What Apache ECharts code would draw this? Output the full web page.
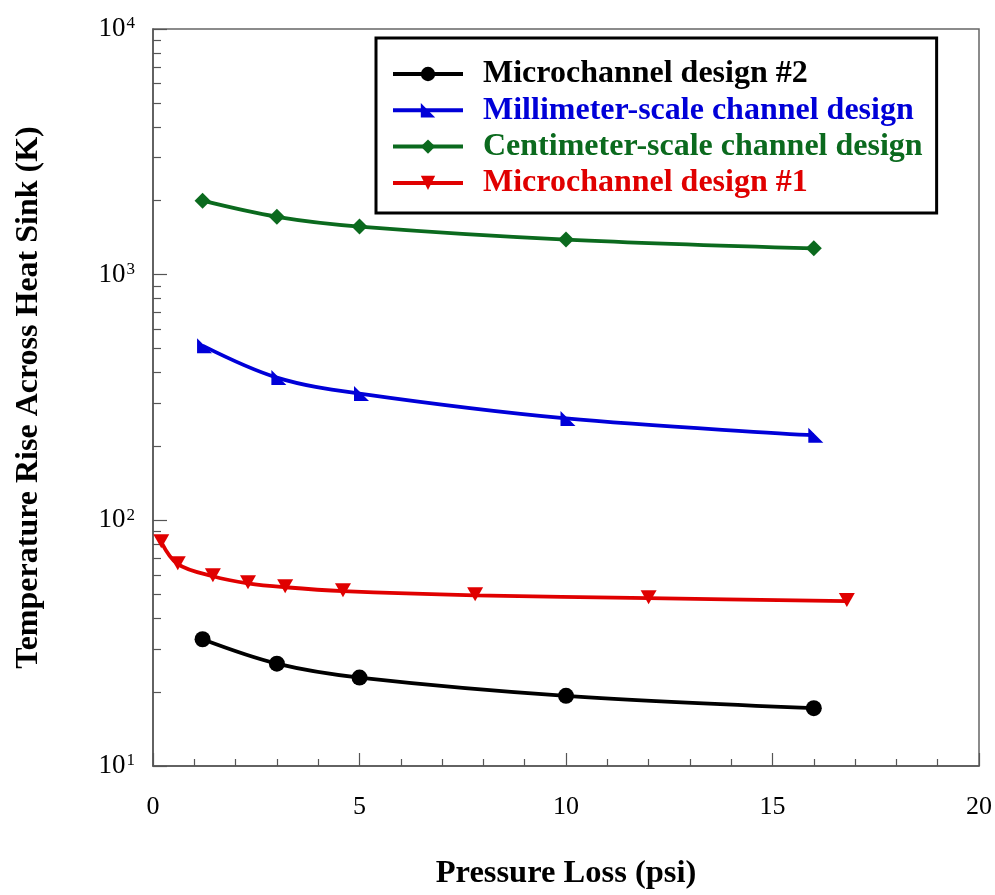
<!DOCTYPE html>
<html>
<head>
<meta charset="utf-8">
<script src="https://cdn.jsdelivr.net/npm/echarts@6/dist/echarts.min.js"></script>
<style>
  html, body { margin: 0; padding: 0; background: #fff; }
  #chart { width: 995px; height: 895px; }
</style>
</head>
<body>
<div id="chart"></div>
<script>
// Pressure loss (psi) and temperature rise (K) for each design
const microDesign2X = [1.2, 3, 5, 10, 16];
const microDesign2Y = [32.8, 26.1, 22.9, 19.3, 17.2];

const millimeterX = [1.2, 3, 5, 10, 16];
const millimeterY = [514, 381, 328, 260, 222];

const centimeterX = [1.2, 3, 5, 10, 16];
const centimeterY = [2000, 1720, 1570, 1390, 1280];

const microDesign1X = [0.2, 0.6, 1.45, 2.3, 3.2, 4.6, 7.8, 12.0, 16.8];
const microDesign1Y = [81.5, 66.3, 59.2, 55.4, 53.4, 51.5, 49.5, 48.2, 46.9];

const seriesNames = [
  'Microchannel design #2',
  'Millimeter-scale channel design',
  'Centimeter-scale channel design',
  'Microchannel design #1'
];
const seriesColors = ['#000000', '#0000d8', '#0b6a1e', '#e00000'];

// Minor ticks of the logarithmic temperature axis (2..9 within each decade)
const logMinorTicks = [];
[10, 100, 1000].forEach(d => { for (let k = 2; k <= 9; k++) logMinorTicks.push(k * d); });

const SERIF = '"Liberation Serif", "Times New Roman", serif';

const pairs = (xs, ys) => xs.map((x, i) => [x, ys[i]]);

const chart = echarts.init(document.getElementById('chart'), null, { renderer: 'canvas' });

const common = {
  type: 'line',
  smooth: 0.35,
  symbolSize: 14,
  lineStyle: { width: 3.5 },
  z: 3
};

chart.setOption({
  animation: false,
  backgroundColor: '#ffffff',
  grid: {
    left: 153, top: 29, right: 16, bottom: 128,
    show: true, borderColor: '#666', borderWidth: 1.5, backgroundColor: 'transparent'
  },
  legend: {
    orient: 'vertical',
    left: 376, top: 38,
    padding: [20, 14, 14, 15],
    borderColor: '#000', borderWidth: 3,
    backgroundColor: '#fff',
    itemWidth: 70, itemHeight: 18, itemGap: 4.3,
    lineStyle: { width: 4 },
    textStyle: {
      fontFamily: SERIF, fontWeight: 'bold', fontSize: 32, lineHeight: 32,
      padding: [0, 0, 0, 15]
    },
    data: seriesNames.map((n, i) => ({ name: n, textStyle: { color: seriesColors[i] } }))
  },
  xAxis: {
    type: 'value',
    min: 0, max: 20, interval: 5,
    name: 'Pressure Loss (psi)',
    nameLocation: 'middle', nameGap: 91,
    nameTextStyle: { fontFamily: SERIF, fontWeight: 'bold', fontSize: 32.5, color: '#000' },
    axisLine: { show: true, onZero: false, lineStyle: { color: '#555', width: 1.5 } },
    axisTick: { show: true, inside: true, length: 13, lineStyle: { color: '#555', width: 1.2 } },
    minorTick: { show: true, splitNumber: 5, length: 7, lineStyle: { color: '#555', width: 1.2 } },
    splitLine: { show: false },
    axisLabel: { fontFamily: SERIF, fontSize: 26, color: '#000', margin: 28 }
  },
  yAxis: [
    {
      type: 'log', logBase: 10, min: 10, max: 10000,
      name: 'Temperature Rise Across Heat Sink (K)',
      nameLocation: 'middle', nameGap: 108,
      nameTextStyle: { fontFamily: SERIF, fontWeight: 'bold', fontSize: 32, color: '#000' },
      axisLine: { show: true, lineStyle: { color: '#555', width: 1.5 } },
      axisTick: { show: true, inside: true, length: 14, lineStyle: { color: '#555', width: 1.2 } },
      splitLine: { show: false },
      axisLabel: {
        margin: 18,
        formatter: v => '{b|10}{s|' + Math.round(Math.log10(v)) + '}',
        rich: {
          b: { fontFamily: SERIF, fontSize: 27, color: '#000' },
          s: { fontFamily: SERIF, fontSize: 17, color: '#000', verticalAlign: 'top', padding: [0, 0, 0, 1] }
        }
      }
    },
    {
      type: 'log', logBase: 10, min: 10, max: 10000,
      position: 'left',
      axisLine: { show: false },
      axisLabel: { show: false },
      splitLine: { show: false },
      axisTick: {
        show: true, inside: true, length: 8,
        customValues: logMinorTicks,
        lineStyle: { color: '#555', width: 1.2 }
      }
    }
  ],
  series: [
    Object.assign({}, common, {
      name: seriesNames[0], data: pairs(microDesign2X, microDesign2Y),
      symbol: 'circle', symbolSize: 16,
      itemStyle: { color: seriesColors[0] }, lineStyle: { width: 3.8, color: seriesColors[0] }
    }),
    Object.assign({}, common, {
      name: seriesNames[1], data: pairs(millimeterX, millimeterY),
      symbol: 'path://M0,0 L10,10 L0,10 Z', symbolSize: 15, symbolOffset: [2, 0],
      itemStyle: { color: seriesColors[1] }, lineStyle: { width: 3.8, color: seriesColors[1] }
    }),
    Object.assign({}, common, {
      name: seriesNames[2], data: pairs(centimeterX, centimeterY),
      symbol: 'diamond', symbolSize: 16,
      itemStyle: { color: seriesColors[2] }, lineStyle: { width: 3.8, color: seriesColors[2] }
    }),
    Object.assign({}, common, {
      name: seriesNames[3], data: pairs(microDesign1X, microDesign1Y),
      symbol: 'path://M0,0 L10,0 L5,9 Z', symbolSize: [16, 14], symbolOffset: [0, -1],
      itemStyle: { color: seriesColors[3] }, lineStyle: { width: 3.8, color: seriesColors[3] }
    })
  ]
});
</script>
</body>
</html>
